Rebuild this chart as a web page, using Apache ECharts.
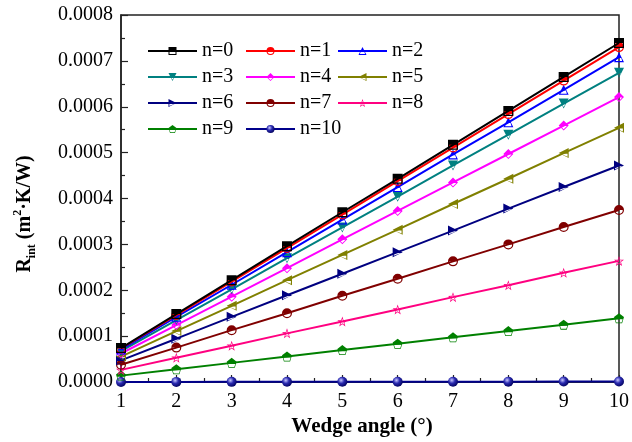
<!DOCTYPE html>
<html>
<head>
<meta charset="utf-8">
<script src="https://cdn.jsdelivr.net/npm/echarts@6/dist/echarts.min.js"></script>
<style>
  html, body { margin: 0; padding: 0; background: #fff; }
  #chart { width: 632px; height: 442px; }
</style>
</head>
<body>
<div id="chart"></div>
<script>
// wedge angle (deg)
const angles = [1, 2, 3, 4, 5, 6, 7, 8, 9, 10]
const names = ["n=0", "n=1", "n=2", "n=3", "n=4", "n=5", "n=6", "n=7", "n=8", "n=9", "n=10"]

// R_int values, m2.K/W
const r0 = [0.0000739, 0.000148, 0.000222, 0.000296, 0.000370, 0.000443, 0.000517, 0.000591, 0.000665, 0.000739]
const r1 = [0.0000730, 0.000146, 0.000219, 0.000292, 0.000365, 0.000438, 0.000511, 0.000584, 0.000657, 0.000730]
const r2 = [0.0000708, 0.000142, 0.000212, 0.000283, 0.000354, 0.000425, 0.000496, 0.000566, 0.000637, 0.000708]
const r3 = [0.0000674, 0.000135, 0.000202, 0.000270, 0.000337, 0.000404, 0.000472, 0.000539, 0.000607, 0.000674]
const r4 = [0.0000621, 0.000124, 0.000186, 0.000248, 0.000311, 0.000373, 0.000435, 0.000497, 0.000559, 0.000621]
const r5 = [0.0000554, 0.000111, 0.000166, 0.000222, 0.000277, 0.000332, 0.000388, 0.000443, 0.000499, 0.000554]
const r6 = [0.0000472, 0.0000944, 0.000142, 0.000189, 0.000236, 0.000283, 0.000330, 0.000378, 0.000425, 0.000472]
const r7 = [0.0000375, 0.0000750, 0.000113, 0.000150, 0.000188, 0.000225, 0.000263, 0.000300, 0.000338, 0.000375]
const r8 = [0.0000264, 0.0000528, 0.0000792, 0.000106, 0.000132, 0.000158, 0.000185, 0.000211, 0.000238, 0.000264]
const r9 = [0.0000139, 0.0000278, 0.0000417, 0.0000556, 0.0000695, 0.0000834, 0.0000973, 0.000111, 0.000125, 0.000139]
const r10 = [0.0000001, 0.0000002, 0.0000003, 0.0000004, 0.0000005, 0.0000006, 0.0000007, 0.0000008, 0.0000009, 0.000001]

const yTicks = ["0.0000", "0.0001", "0.0002", "0.0003", "0.0004", "0.0005", "0.0006", "0.0007", "0.0008"]

const values = [r0, r1, r2, r3, r4, r5, r6, r7, r8, r9, r10]
const colors = ["#000000", "#ff0000", "#0000ff", "#008080", "#ff00ff", "#808000", "#000080", "#800000", "#ff0080", "#008000", "#00008b"]

// half filled markers: top half solid, bottom half hollow (hole with reverse winding)
const sym = {
  square: "path://M0 0H20V20H0Z M2.5 10V17.5H17.5V10Z",
  circle: "path://M0 10A10 10 0 1 1 20 10A10 10 0 1 1 0 10Z M2.5 10A7.5 7.5 0 0 0 17.5 10Z",
  triUp: "path://M10 0L20 20L0 20Z M5.5 11.5L3.6 17.8L16.4 17.8L14.5 11.5Z",
  triDown: "path://M0 0H20L10 20Z M6.5 11.5L10 17L13.5 11.5Z",
  diamond: "path://M10 0L20 10L10 20L0 10Z M3.5 11L10 17.5L16.5 11Z",
  triLeft: "path://M0 10L20 0L20 20Z M3.5 11.5L17.8 17.4L17.8 11.5Z",
  triRight: "path://M0 0L20 10L0 20Z M16.5 11.5L2.2 11.5L2.2 17.4Z",
  star: "path://M10 0L12.35 6.76L19.51 6.91L13.8 11.24L15.88 18.09L10 14L4.12 18.09L6.2 11.24L0.49 6.91L7.65 6.76Z M10 4L8.59 8.06L4.29 8.15L7.72 10.74L6.47 14.85L10 12.4L13.53 14.85L12.28 10.74L15.71 8.15L11.41 8.06Z",
  pentagon: "path://M10 0L19.51 6.91L15.88 18.09L4.12 18.09L0.49 6.91Z M3 11L5 16.6L15 16.6L17 11Z",
  ball: "circle"
}
const symbols = [sym.square, sym.circle, sym.triUp, sym.triDown, sym.diamond, sym.triLeft, sym.triRight, sym.circle, sym.star, sym.pentagon, sym.ball]

const font = "Liberation Serif"

const chart = echarts.init(document.getElementById("chart"), null, { renderer: "canvas" })

const series = names.map((name, i) => {
  let fill = colors[i]
  if (i === 10) {
    fill = {
      type: "radial", x: 0.38, y: 0.35, r: 0.7,
      colorStops: [
        { offset: 0, color: "#c8c8ff" },
        { offset: 0.45, color: "#2a2ab0" },
        { offset: 1, color: "#00005a" }
      ]
    }
  }
  return {
    name: name,
    type: "line",
    data: angles.map((a, k) => [a, values[i][k]]),
    symbol: symbols[i],
    symbolSize: 10,
    showAllSymbol: true,
    lineStyle: { color: colors[i], width: 2 },
    itemStyle: { color: fill, borderWidth: 0 },
    emphasis: { disabled: true },
    z: 20 - i
  }
})

const legendBase = {
  orient: "vertical",
  top: 36,
  itemWidth: 49,
  itemHeight: 10,
  itemGap: 6,
  selectedMode: false,
  textStyle: { fontFamily: font, fontSize: 20, color: "#000", lineHeight: 20 }
}

const options = {
  animation: false,
  color: colors,
  grid: {
    left: 121,
    right: 10,
    top: 15,
    bottom: 60,
    show: true,
    borderColor: "#222",
    borderWidth: 1.5
  },
  legend: [
    Object.assign({}, legendBase, { left: 142, data: ["n=0", "n=3", "n=6", "n=9"] }),
    Object.assign({}, legendBase, { left: 240, data: ["n=1", "n=4", "n=7", "n=10"] }),
    Object.assign({}, legendBase, { left: 332, data: ["n=2", "n=5", "n=8"] })
  ],
  xAxis: {
    type: "value",
    min: 1,
    max: 10,
    interval: 1,
    axisLine: { lineStyle: { color: "#222", width: 1.5 } },
    axisTick: { inside: true, length: 7, lineStyle: { color: "#222", width: 1.2 } },
    minorTick: { show: true, splitNumber: 2, length: 4, lineStyle: { color: "#222", width: 1.2 } },
    splitLine: { show: false },
    axisLabel: { fontFamily: font, fontSize: 20, color: "#000", margin: 10 }
  },
  yAxis: {
    type: "value",
    min: 0,
    max: 0.0008,
    interval: 0.0001,
    axisLine: { show: true, lineStyle: { color: "#222", width: 1.5 } },
    axisTick: { show: true, inside: true, length: 7, lineStyle: { color: "#222", width: 1.2 } },
    minorTick: { show: true, splitNumber: 2, length: 4, lineStyle: { color: "#222", width: 1.2 } },
    splitLine: { show: false },
    axisLabel: {
      fontFamily: font, fontSize: 20, color: "#000", margin: 8,
      formatter: (v) => yTicks[Math.round(v / 0.0001)]
    }
  },
  graphic: [
    {
      type: "text",
      x: 362,
      y: 427,
      style: {
        text: "Wedge angle (°)",
        font: "bold 21px '" + font + "'",
        fill: "#000",
        align: "center",
        verticalAlign: "middle"
      }
    },
    {
      type: "text",
      x: 25,
      y: 214,
      rotation: Math.PI / 2,
      style: {
        text: "{b|R}{s|int}{b| (m}{p|2}{b|·K/W)}",
        align: "center",
        verticalAlign: "middle",
        fill: "#000",
        rich: {
          b: { fontFamily: font, fontWeight: "bold", fontSize: 20, lineHeight: 26, verticalAlign: "middle" },
          s: { fontFamily: font, fontWeight: "bold", fontSize: 12, lineHeight: 26, verticalAlign: "bottom" },
          p: { fontFamily: font, fontWeight: "bold", fontSize: 12, lineHeight: 26, verticalAlign: "top" }
        }
      }
    }
  ],
  series: series
}

chart.setOption(options)
</script>
</body>
</html>
